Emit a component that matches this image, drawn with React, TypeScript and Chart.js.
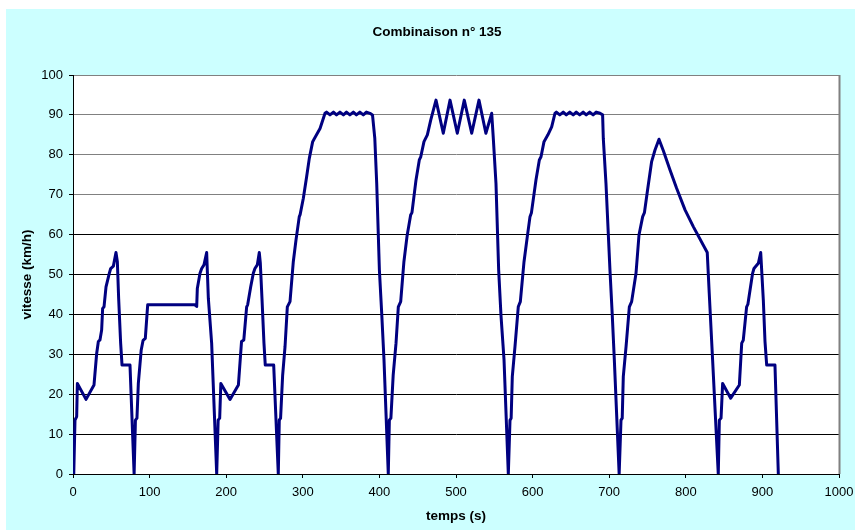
import React, { useEffect, useRef } from "react";
import { Chart, registerables } from "chart.js";

Chart.register(...registerables);

const chartTitle = "Combinaison n° 135";
const xAxisTitle = "temps (s)";
const yAxisTitle = "vitesse (km/h)";

// time (s) of each recorded point
const times: number[] = [
  // segment 1
  1, 2.6, 4.8, 5.7, 17, 27.4, 30.9, 33.1, 35.2, 37.4, 38.7, 40.5, 43.1, 47.4, 49.2, 52.7, 56.1, 57.9, 59.6, 62.2, 64, 74.4, 79.8,
  // segment 2
  81.5, 83.5, 85.3, 89, 91.5, 94.4, 97.5, 159, 161.5, 162.3, 165.8, 168, 171, 174.5, 176.7, 181, 187.6,
  // segment 3
  189.5, 191.5, 193, 205, 215.9, 220, 223, 226.7, 228, 232, 235.4, 237.5, 240.6, 243.2, 244.5, 246.7, 249.3, 251, 262, 268,
  // segment 4
  269.3, 271, 273.7, 276.8, 279.8, 283.3, 287.6, 291.1, 295.4, 296.5, 300.7, 305, 308.5, 312.9, 315, 322.5, 329,
  331, 335.5, 340, 344, 348.5, 353, 357, 361.5, 366, 370, 374.5, 379, 383, 387.7,
  391, 394, 396.5, 400, 403, 406, 411.6,
  // segment 5
  413, 415, 418, 421.7, 424.7, 427.8, 432, 436, 440.8, 442.5, 447.8, 452.1, 454, 458.2, 462.6, 467, 473.9,
  483.4, 492.2, 501.7, 510.8, 520.5, 530, 539, 546.6, 548.7, 552.2, 555.7, 558.7, 562.7, 568.3,
  // segment 6
  570.5, 572, 573.5, 577, 581.3, 584, 588.8, 593.1, 596.6, 598.5, 604.4, 608.8, 611, 614.9, 620, 624.9, 629.2,
  631, 635.5, 640, 644, 648.5, 653, 657, 661.5, 666, 670, 674.5, 679, 683, 688,
  691.4, 692.3, 695.8, 701, 704, 706.7, 713,
  // segment 7
  715.4, 717, 718.4, 722, 726.3, 729.3, 735, 738.9, 743.7, 746, 749.8, 755.4, 759.8, 765,
  770.7, 779.4, 788, 799, 809.8, 828, 830.6, 835, 842.4,
  // segment 8
  843.8, 846, 848.1, 858.6, 869.9, 873, 875, 879.4, 881, 887.2, 889, 894.7, 897.8, 901.2, 903.4, 905.6, 916.4, 920.8,
];

// speed (km/h) at each time above
const speeds: number[] = [
  // segment 1
  0, 13.5, 14.4, 22.7, 18.7, 22.3, 30.2, 33.2, 33.6, 36.1, 41.5, 41.9, 46.9, 50.3, 51.5, 52.1, 55.5, 53.2, 44, 32.8, 27.3, 27.3, 0,
  // segment 2
  13.5, 14, 22.7, 31, 33.5, 34, 42.4, 42.4, 42, 46.5, 50.3, 51.5, 52.4, 55.5, 44, 32.8, 0,
  // segment 3
  13.5, 14, 22.7, 18.7, 22.3, 33.2, 33.6, 41.9, 42.4, 46.9, 50.3, 51.5, 52.4, 55.5, 53, 44, 32.8, 27.3, 27.3, 0,
  // segment 4
  13.5, 14, 24.8, 31.9, 41.9, 43.2, 53.2, 58.6, 64.5, 65, 69.1, 74.5, 79.1, 83.3, 84, 86.6, 90.4,
  90.7, 90.0, 90.7, 90.0, 90.7, 90.0, 90.7, 90.0, 90.7, 90.0, 90.7, 90.0, 90.7, 90.4,
  90, 84.1, 72.8, 51.1, 40.3, 28.6, 0,
  // segment 5
  13.5, 14, 24.8, 32.8, 41.9, 43.2, 53.2, 59.5, 64.9, 65.5, 73.7, 78.7, 79.5, 83.3, 85, 88.7, 93.7,
  85.4, 93.7, 85.4, 93.7, 85.4, 93.7, 85.4, 90.4, 84.1, 72.8, 51.1, 39.8, 28.6, 0,
  // segment 6
  13.5, 14, 24.4, 31.9, 41.9, 43.2, 53.2, 59.5, 64.5, 65.5, 73.7, 78.7, 79.5, 83.3, 85, 87, 90.4,
  90.7, 90.0, 90.7, 90.0, 90.7, 90.0, 90.7, 90.0, 90.7, 90.0, 90.7, 90.0, 90.7, 90.4,
  90, 84.1, 72.8, 51.1, 39.8, 28.6, 0,
  // segment 7
  13.5, 14, 24.4, 31.9, 41.9, 43.2, 50.3, 59.9, 64.5, 65.5, 70.8, 78.3, 81.2, 83.9,
  81, 76.2, 71.6, 66.2, 62, 55.5, 45.3, 28.6, 0,
  // segment 8
  13.5, 14, 22.7, 19, 22.3, 32.8, 33.5, 41.9, 42.5, 50.3, 51.5, 52.8, 55.5, 43.6, 33.2, 27.3, 27.3, 0,
];

const xMin = 0;
const xMax = 1000;
const xStep = 100;
const yMin = 0;
const yMax = 100;
const yStep = 10;

const FONT = "'Liberation Sans', Arial, sans-serif";

const backgroundPlugin = {
  id: "bgPlugin",
  beforeDraw(chart: any) {
    const { ctx, width, height, chartArea } = chart;
    ctx.save();
    ctx.fillStyle = "#ffffff";
    ctx.fillRect(0, 0, width, height);
    ctx.fillStyle = "#CCFFFF";
    ctx.fillRect(6, 9, width - 6, 530 - 9);
    ctx.fillStyle = "#ffffff";
    ctx.fillRect(chartArea.left, chartArea.top, chartArea.right - chartArea.left, chartArea.bottom - chartArea.top);
    ctx.restore();
  },
  afterDraw(chart: any) {
    const { ctx, chartArea } = chart;
    ctx.save();
    ctx.strokeStyle = "#808080";
    ctx.lineWidth = 2;
    ctx.beginPath();
    ctx.moveTo(chartArea.right + 0.5, chartArea.top);
    ctx.lineTo(chartArea.right + 0.5, chartArea.bottom);
    ctx.stroke();
    // chart title
    ctx.fillStyle = "#000000";
    ctx.font = "bold 13.5px " + FONT;
    ctx.textAlign = "center";
    ctx.textBaseline = "middle";
    ctx.fillText(chartTitle, 437, 32);
    ctx.restore();
  },
};

export default function App() {
  const canvasRef = useRef<HTMLCanvasElement | null>(null);

  useEffect(() => {
    if (!canvasRef.current) return;
    const points = times.map((t, i) => ({ x: t, y: speeds[i] }));
    const chart = new Chart(canvasRef.current, {
      type: "line",
      data: {
        datasets: [
          {
            data: points,
            borderColor: "#000080",
            borderWidth: 3,
            pointRadius: 0,
            tension: 0,
            fill: false,
            borderJoinStyle: "round",
          },
        ],
      },
      options: {
        animation: false,
        responsive: false,
        maintainAspectRatio: false,
        devicePixelRatio: 1,
        layout: { padding: { left: 0, right: 16, top: 75, bottom: 0 } },
        plugins: {
          legend: { display: false },
          tooltip: { enabled: false },
          title: { display: false },
        },
        scales: {
          x: {
            type: "linear",
            min: xMin,
            max: xMax,
            afterFit(scale: any) {
              scale.height = 58;
              scale.paddingLeft = 0;
              scale.paddingRight = 0;
            },
            ticks: {
              stepSize: xStep,
              color: "#000000",
              font: { family: FONT, size: 13 },
              padding: 7,
              maxRotation: 0,
              callback: (v: any) => String(v),
            },
            grid: {
              drawOnChartArea: false,
              drawTicks: true,
              tickLength: 4,
              color: "#000000",
            },
            border: { color: "#000000", width: 1 },
            title: {
              display: true,
              text: xAxisTitle,
              color: "#000000",
              font: { family: FONT, size: 13.5, weight: "bold" },
              padding: { top: 0, bottom: 7.9 },
            },
          },
          y: {
            type: "linear",
            min: yMin,
            max: yMax,
            afterFit(scale: any) {
              scale.width = 73;
              scale.paddingTop = 0;
              scale.paddingBottom = 0;
            },
            ticks: {
              stepSize: yStep,
              color: "#000000",
              font: { family: FONT, size: 13 },
              padding: 6,
              callback: (v: any) => String(v),
            },
            grid: {
              drawTicks: true,
              tickLength: 4,
              color: (c: any) => (c.tick && c.tick.value >= 70 ? "#808080" : "#000000"),
              tickColor: "#000000",
              lineWidth: 1,
            },
            border: { color: "#000000", width: 1 },
            title: {
              display: true,
              text: yAxisTitle,
              color: "#000000",
              font: { family: FONT, size: 13.5, weight: "bold" },
              padding: { top: 19, bottom: 0 },
            },
          },
        },
      },
      plugins: [backgroundPlugin],
    });
    return () => chart.destroy();
  }, []);

  return (
    <div style={{ position: "absolute", left: 0, top: 0, width: 855, height: 532 }}>
      <canvas ref={canvasRef} width={855} height={532} style={{ width: 855, height: 532, display: "block" }} />
    </div>
  );
}
